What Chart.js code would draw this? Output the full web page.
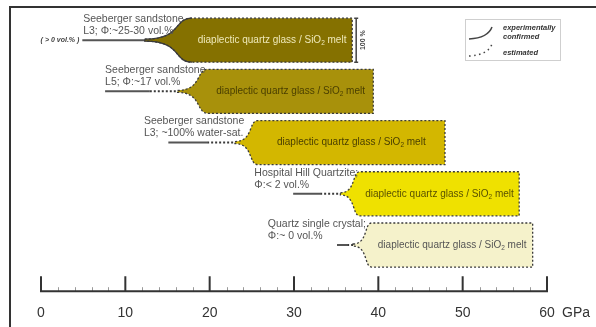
<!DOCTYPE html>
<html lang="en">
<head>
    <meta charset="UTF-8">
    <title>Shock pressure ranges</title>
    <script src="https://cdn.jsdelivr.net/npm/chart.js"></script>
    <style>
        body { margin: 0; background: #fff; }
        #wrap { width: 596px; height: 327px; position: relative; }
    </style>
</head>
<body>
    <div id="wrap"><canvas id="chart"></canvas></div>
    <script>
        // rows, top to bottom (pressure in GPa)
        const sampleNames = ['Seeberger sandstone', 'Seeberger sandstone', 'Seeberger sandstone', 'Hospital Hill Quartzite;', 'Quartz single crystal;'];
        const sampleInfo = ['L3; \u03A6:~25-30 vol.%', 'L5; \u03A6:~17 vol.%', 'L3; ~100% water-sat.', '\u03A6:< 2 vol.%', '\u03A6:~ 0 vol.%'];
        const lineStart = [4.9, 7.6, 15.1, 29.9, 35.1];
        const solidEnd = [18.0, 12.9, 19.7, 33.1, 36.3];
        const flareStart = [12.3, 16.2, 23.0, 35.5, 37.0];
        const blobStart = [17.9, 19.8, 25.7, 37.8, 39.2];
        const blobEnd = [36.9, 39.4, 47.9, 56.7, 58.3];
        const xTicks = [0, 10, 20, 30, 40, 50, 60];
        const phaseText = ['diaplectic quartz glass / SiO', '2', ' melt'];
        const leadNote = '( > 0 vol.% )';

        // label anchors (GPa) and styles
        const labelAt = [5.0, 7.6, 12.2, 25.3, 26.9];
        const fills = ['#857100', '#a8910b', '#d3b700', '#efe100', '#f5f2cb'];
        const inkColors = ['#efe9b8', '#4a3f00', '#4a3f00', '#5a5200', '#555555'];
        const halfH = 0.43;
        const FONT = '"Liberation Sans", Arial, sans-serif';

        function blobPath(ctx, x0, x1, x2, cy, h) {
            const w = x1 - x0;
            ctx.beginPath();
            ctx.moveTo(x0, cy - 1);
            ctx.bezierCurveTo(x0 + 0.8 * w, cy - 1, x0 + 0.6 * w, cy - h, x1, cy - h);
            ctx.lineTo(x2, cy - h);
            ctx.lineTo(x2, cy + h);
            ctx.lineTo(x1, cy + h);
            ctx.bezierCurveTo(x0 + 0.6 * w, cy + h, x0 + 0.8 * w, cy + 1, x0, cy + 1);
            ctx.closePath();
        }

        const drawing = {
            id: 'drawing',
            beforeDraw(chart) {
                const ctx = chart.ctx;
                ctx.save();
                ctx.strokeStyle = '#333';
                ctx.lineWidth = 2;
                ctx.beginPath();
                ctx.moveTo(10, chart.height);
                ctx.lineTo(10, 7);
                ctx.lineTo(chart.width, 7);
                ctx.stroke();
                ctx.restore();
            },
            afterDatasetsDraw(chart) {
                const ctx = chart.ctx;
                const xs = chart.scales.x, ys = chart.scales.y;
                ctx.save();
                for (let i = 0; i < blobEnd.length; i++) {
                    const cy = ys.getPixelForValue(i);
                    const h = (ys.getPixelForValue(i + halfH) - ys.getPixelForValue(i - halfH)) / 2;
                    const x0 = xs.getPixelForValue(flareStart[i]);
                    const x1 = xs.getPixelForValue(blobStart[i]);
                    const x2 = xs.getPixelForValue(blobEnd[i]);
                    blobPath(ctx, x0, x1, x2, cy, h);
                    ctx.fillStyle = fills[i];
                    ctx.fill();
                    // outline: dotted everywhere, solid flare where confirmed
                    ctx.strokeStyle = '#3a3a3a';
                    ctx.lineWidth = 1.3;
                    ctx.setLineDash([2, 2]);
                    ctx.stroke();
                    if (solidEnd[i] >= blobStart[i]) {
                        const w = x1 - x0;
                        ctx.setLineDash([]);
                        ctx.beginPath();
                        ctx.moveTo(x0, cy - 1);
                        ctx.bezierCurveTo(x0 + 0.8 * w, cy - 1, x0 + 0.6 * w, cy - h, x1, cy - h);
                        ctx.moveTo(x0, cy + 1);
                        ctx.bezierCurveTo(x0 + 0.8 * w, cy + 1, x0 + 0.6 * w, cy + h, x1, cy + h);
                        ctx.stroke();
                    }
                    ctx.setLineDash([]);

                    // phase text with subscript
                    const big = '10px ' + FONT, small = '6.5px ' + FONT;
                    ctx.font = big;
                    const wa = ctx.measureText(phaseText[0]).width;
                    const wc = ctx.measureText(phaseText[2]).width;
                    ctx.font = small;
                    const wb = ctx.measureText(phaseText[1]).width;
                    let tx = (x1 + x2) / 2 - (wa + wb + wc) / 2;
                    ctx.fillStyle = inkColors[i];
                    ctx.textBaseline = 'middle';
                    ctx.textAlign = 'left';
                    ctx.font = big;
                    ctx.fillText(phaseText[0], tx, cy);
                    ctx.font = small;
                    ctx.fillText(phaseText[1], tx + wa, cy + 3);
                    ctx.font = big;
                    ctx.fillText(phaseText[2], tx + wa + wb, cy);

                    // sample labels
                    const lx = xs.getPixelForValue(labelAt[i]);
                    ctx.fillStyle = '#555';
                    ctx.font = '10.5px ' + FONT;
                    ctx.fillText(sampleNames[i], lx, cy - 21);
                    ctx.fillText(sampleInfo[i], lx, cy - 9);
                }

                // note left of first line
                const y0 = ys.getPixelForValue(0);
                ctx.font = 'italic bold 7px ' + FONT;
                ctx.fillStyle = '#444';
                ctx.textAlign = 'right';
                ctx.fillText(leadNote, xs.getPixelForValue(lineStart[0]) - 3, y0);

                // 100 % bracket
                const bx = xs.getPixelForValue(blobEnd[0]) + 4;
                const bt = ys.getPixelForValue(-halfH), bb = ys.getPixelForValue(halfH);
                ctx.strokeStyle = '#444';
                ctx.lineWidth = 1.5;
                ctx.beginPath();
                ctx.moveTo(bx, bt); ctx.lineTo(bx, bb);
                ctx.moveTo(bx - 2, bt); ctx.lineTo(bx + 2, bt);
                ctx.moveTo(bx - 2, bb); ctx.lineTo(bx + 2, bb);
                ctx.stroke();
                ctx.save();
                ctx.translate(bx + 7, y0);
                ctx.rotate(-Math.PI / 2);
                ctx.textAlign = 'center';
                ctx.font = 'bold 7px ' + FONT;
                ctx.fillText('100 %', 0, 0);
                ctx.restore();

                // axis with ticks pointing up
                const ab = chart.chartArea.bottom;
                ctx.strokeStyle = '#999';
                ctx.lineWidth = 1;
                for (let v = 2; v < 60; v += 2) {
                    if (v % 10 === 0) continue;
                    const px = Math.round(xs.getPixelForValue(v)) + 0.5;
                    ctx.beginPath(); ctx.moveTo(px, ab); ctx.lineTo(px, ab - 4); ctx.stroke();
                }
                ctx.strokeStyle = '#333';
                ctx.lineWidth = 2;
                ctx.beginPath();
                ctx.moveTo(xs.getPixelForValue(0), ab);
                ctx.lineTo(xs.getPixelForValue(60), ab);
                xTicks.forEach(v => {
                    const px = xs.getPixelForValue(v);
                    ctx.moveTo(px, ab + 1); ctx.lineTo(px, ab - 15);
                });
                ctx.stroke();
                ctx.fillStyle = '#333';
                ctx.font = '14px ' + FONT;
                ctx.textAlign = 'left';
                ctx.textBaseline = 'middle';
                ctx.fillText('GPa', xs.getPixelForValue(60) + 15, ab + 22);

                // legend
                ctx.strokeStyle = '#cfcfcf';
                ctx.lineWidth = 1;
                ctx.strokeRect(465.5, 19.5, 95, 41);
                ctx.strokeStyle = '#444';
                ctx.lineWidth = 1.5;
                ctx.beginPath();
                ctx.moveTo(469, 39);
                ctx.quadraticCurveTo(488, 38, 492, 27);
                ctx.stroke();
                ctx.setLineDash([1.5, 3.5]);
                ctx.beginPath();
                ctx.moveTo(469, 56);
                ctx.quadraticCurveTo(488, 55, 492, 44);
                ctx.stroke();
                ctx.setLineDash([]);
                ctx.fillStyle = '#333';
                ctx.font = 'italic bold 7.5px ' + FONT;
                ctx.fillText('experimentally', 503, 28);
                ctx.fillText('confirmed', 503, 37);
                ctx.fillText('estimated', 503, 53);
                ctx.restore();
            }
        };

        const lead = lineStart.map((s, i) => ({
            data: [
                { x: s, y: i },
                { x: Math.min(solidEnd[i], flareStart[i]), y: i },
                { x: flareStart[i], y: i }
            ],
            showLine: true,
            borderColor: '#555',
            borderWidth: 2,
            pointRadius: 0,
            segment: {
                borderDash: ctx => ctx.p0DataIndex === 1 ? [2, 2] : undefined,
                borderColor: ctx => ctx.p0DataIndex === 1 ? '#3a3a3a' : '#555'
            }
        }));

        new Chart(document.getElementById('chart'), {
            type: 'scatter',
            data: { datasets: lead },
            plugins: [drawing],
            options: {
                responsive: true,
                maintainAspectRatio: false,
                animation: false,
                layout: { padding: { left: 41, right: 49, top: 0, bottom: -9 } },
                plugins: { legend: { display: false }, tooltip: { enabled: false } },
                scales: {
                    x: {
                        type: 'linear', min: 0, max: 60,
                        afterBuildTicks: axis => { axis.ticks = xTicks.map(v => ({ value: v })); },
                        grid: { display: false, drawTicks: false },
                        border: { display: false },
                        ticks: { color: '#333', padding: 14, font: { size: 14, family: FONT } }
                    },
                    y: {
                        type: 'linear', reverse: true, display: false,
                        min: -0.784, max: 4.902
                    }
                }
            }
        });
    </script>
</body>
</html>
